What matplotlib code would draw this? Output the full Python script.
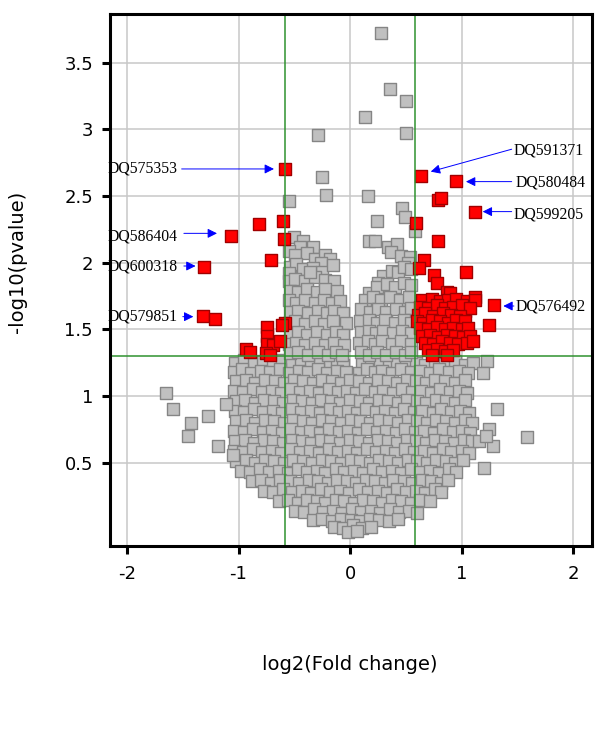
import matplotlib.pyplot as plt
import numpy as np

# log2 fold change / -log10 p-value
# lower body of the volcano (p > 0.05)
gray_body = [
    (-1.03, 1.25), (-0.95, 1.27), (-0.86, 1.24), (-0.78, 1.26), (-0.69, 1.25), (-0.61, 1.27), (-0.52, 1.24),
    (-0.44, 1.26), (-0.35, 1.25), (-0.27, 1.27), (-0.18, 1.24), (-0.12, 1.26), (-0.06, 1.23),
    (0.11, 1.24), (0.19, 1.27), (0.27, 1.25), (0.35, 1.26), (0.42, 1.24), (0.50, 1.27), (0.59, 1.25),
    (0.67, 1.23), (0.76, 1.26), (0.85, 1.24), (0.94, 1.26), (1.03, 1.23), (1.10, 1.25),
    (-1.04, 1.18), (-0.97, 1.20), (-0.89, 1.17), (-0.80, 1.19), (-0.72, 1.18), (-0.63, 1.20), (-0.55, 1.17),
    (-0.46, 1.19), (-0.38, 1.18), (-0.29, 1.20), (-0.21, 1.17), (-0.12, 1.19), (-0.04, 1.18), (0.08, 1.17),
    (0.15, 1.20), (0.22, 1.18), (0.29, 1.19), (0.38, 1.17), (0.46, 1.20), (0.55, 1.18), (0.63, 1.19),
    (0.72, 1.17), (0.80, 1.20), (0.89, 1.18), (0.98, 1.19), (1.06, 1.17),
    (-1.02, 1.11), (-0.93, 1.12), (-0.85, 1.10), (-0.76, 1.12), (-0.67, 1.11), (-0.59, 1.10), (-0.50, 1.12),
    (-0.42, 1.11), (-0.33, 1.10), (-0.25, 1.12), (-0.16, 1.11), (-0.08, 1.10), (0.00, 1.12), (0.08, 1.11),
    (0.17, 1.10), (0.25, 1.12), (0.34, 1.11), (0.42, 1.10), (0.51, 1.12), (0.59, 1.11), (0.68, 1.10),
    (0.76, 1.12), (0.85, 1.11), (0.94, 1.10), (1.03, 1.12),
    (-1.04, 1.04), (-0.96, 1.03), (-0.87, 1.05), (-0.79, 1.03), (-0.70, 1.04), (-0.62, 1.02), (-0.53, 1.05),
    (-0.45, 1.03), (-0.36, 1.04), (-0.28, 1.02), (-0.19, 1.05), (-0.11, 1.03), (-0.03, 1.04), (0.05, 1.02),
    (0.13, 1.05), (0.22, 1.03), (0.30, 1.04), (0.39, 1.02), (0.47, 1.05), (0.56, 1.03), (0.64, 1.04),
    (0.73, 1.02), (0.81, 1.05), (0.90, 1.03), (0.98, 1.04), (1.05, 1.02),
    (-1.02, 0.96), (-0.94, 0.97), (-0.85, 0.95), (-0.77, 0.97), (-0.68, 0.96), (-0.60, 0.95), (-0.51, 0.97),
    (-0.43, 0.96), (-0.34, 0.95), (-0.26, 0.97), (-0.17, 0.96), (-0.09, 0.95), (0.00, 0.97), (0.09, 0.96),
    (0.17, 0.95), (0.26, 0.97), (0.34, 0.96), (0.43, 0.95), (0.51, 0.97), (0.60, 0.96), (0.68, 0.95),
    (0.77, 0.97), (0.86, 0.96), (0.94, 0.95), (1.03, 0.97),
    (-1.03, 0.89), (-0.95, 0.88), (-0.86, 0.90), (-0.78, 0.88), (-0.69, 0.89), (-0.61, 0.87), (-0.52, 0.90),
    (-0.44, 0.88), (-0.35, 0.89), (-0.27, 0.87), (-0.18, 0.90), (-0.10, 0.88), (-0.02, 0.89), (0.06, 0.87),
    (0.14, 0.90), (0.23, 0.88), (0.31, 0.89), (0.40, 0.87), (0.48, 0.90), (0.57, 0.88), (0.65, 0.89),
    (0.74, 0.87), (0.82, 0.90), (0.91, 0.88), (0.99, 0.89), (1.07, 0.87),
    (-1.02, 0.81), (-0.93, 0.82), (-0.85, 0.80), (-0.76, 0.82), (-0.68, 0.81), (-0.59, 0.80), (-0.51, 0.82),
    (-0.42, 0.81), (-0.34, 0.80), (-0.25, 0.82), (-0.17, 0.81), (-0.08, 0.80), (0.01, 0.82), (0.09, 0.81),
    (0.18, 0.80), (0.26, 0.82), (0.35, 0.81), (0.43, 0.80), (0.52, 0.82), (0.60, 0.81), (0.69, 0.80),
    (0.77, 0.82), (0.86, 0.81), (0.94, 0.80), (1.03, 0.82), (1.09, 0.80),
    (-1.04, 0.74), (-0.95, 0.73), (-0.87, 0.75), (-0.78, 0.73), (-0.70, 0.74), (-0.61, 0.72), (-0.53, 0.75),
    (-0.44, 0.73), (-0.36, 0.74), (-0.27, 0.72), (-0.19, 0.75), (-0.10, 0.73), (-0.02, 0.74), (0.07, 0.72),
    (0.15, 0.75), (0.24, 0.73), (0.32, 0.74), (0.41, 0.72), (0.49, 0.75), (0.58, 0.73), (0.66, 0.74),
    (0.75, 0.72), (0.83, 0.75), (0.92, 0.73), (1.00, 0.74), (1.08, 0.72),
    (-1.03, 0.66), (-0.94, 0.67), (-0.86, 0.65), (-0.77, 0.67), (-0.69, 0.66), (-0.60, 0.65), (-0.52, 0.67),
    (-0.43, 0.66), (-0.35, 0.65), (-0.26, 0.67), (-0.18, 0.66), (-0.09, 0.65), (0.00, 0.67), (0.08, 0.66),
    (0.17, 0.65), (0.25, 0.67), (0.34, 0.66), (0.42, 0.65), (0.51, 0.67), (0.59, 0.66), (0.68, 0.65),
    (0.76, 0.67), (0.85, 0.66), (0.93, 0.65), (1.02, 0.67), (1.09, 0.66),
    (-1.04, 0.59), (-0.96, 0.58), (-0.87, 0.60), (-0.79, 0.58), (-0.70, 0.59), (-0.62, 0.57), (-0.53, 0.60),
    (-0.45, 0.58), (-0.36, 0.59), (-0.28, 0.57), (-0.19, 0.60), (-0.11, 0.58), (-0.02, 0.59), (0.06, 0.57),
    (0.15, 0.60), (0.23, 0.58), (0.32, 0.59), (0.40, 0.57), (0.49, 0.60), (0.57, 0.58), (0.66, 0.59),
    (0.74, 0.57), (0.83, 0.60), (0.91, 0.58), (1.00, 0.59), (1.07, 0.57),
    (-1.02, 0.51), (-0.93, 0.52), (-0.85, 0.50), (-0.76, 0.52), (-0.68, 0.51), (-0.59, 0.50), (-0.51, 0.52),
    (-0.42, 0.51), (-0.34, 0.50), (-0.25, 0.52), (-0.17, 0.51), (-0.08, 0.50), (0.01, 0.52), (0.09, 0.51),
    (0.18, 0.50), (0.26, 0.52), (0.35, 0.51), (0.43, 0.50), (0.52, 0.52), (0.60, 0.51), (0.69, 0.50),
    (0.77, 0.52), (0.86, 0.51), (0.94, 0.50), (1.01, 0.52),
    (-0.98, 0.44), (-0.90, 0.43), (-0.81, 0.45), (-0.73, 0.43), (-0.64, 0.44), (-0.56, 0.42), (-0.47, 0.45),
    (-0.39, 0.43), (-0.30, 0.44), (-0.22, 0.42), (-0.13, 0.45), (-0.05, 0.43), (0.04, 0.44), (0.12, 0.42),
    (0.21, 0.45), (0.29, 0.43), (0.38, 0.44), (0.46, 0.42), (0.55, 0.45), (0.63, 0.43), (0.72, 0.44),
    (0.80, 0.42), (0.89, 0.45), (0.95, 0.43),
    (-0.88, 0.36), (-0.80, 0.37), (-0.71, 0.35), (-0.63, 0.37), (-0.54, 0.36), (-0.46, 0.35), (-0.37, 0.37),
    (-0.29, 0.36), (-0.20, 0.35), (-0.12, 0.37), (-0.03, 0.36), (0.05, 0.35), (0.14, 0.37), (0.22, 0.36),
    (0.31, 0.35), (0.39, 0.37), (0.48, 0.36), (0.56, 0.35), (0.65, 0.37), (0.73, 0.36), (0.82, 0.35),
    (0.88, 0.37),
    (-0.77, 0.29), (-0.69, 0.28), (-0.60, 0.30), (-0.52, 0.28), (-0.43, 0.29), (-0.35, 0.27), (-0.26, 0.30),
    (-0.18, 0.28), (-0.09, 0.29), (-0.01, 0.27), (0.08, 0.30), (0.16, 0.28), (0.25, 0.29), (0.33, 0.27),
    (0.42, 0.30), (0.50, 0.28), (0.59, 0.29), (0.67, 0.27), (0.76, 0.30), (0.82, 0.28),
    (-0.64, 0.21), (-0.56, 0.22), (-0.47, 0.20), (-0.39, 0.22), (-0.30, 0.21), (-0.22, 0.20), (-0.13, 0.22),
    (-0.05, 0.21), (0.04, 0.20), (0.12, 0.22), (0.21, 0.21), (0.29, 0.20), (0.38, 0.22), (0.46, 0.21),
    (0.55, 0.20), (0.63, 0.22), (0.72, 0.21),
    (-0.49, 0.14), (-0.41, 0.13), (-0.32, 0.15), (-0.24, 0.13), (-0.15, 0.14), (-0.07, 0.12), (0.02, 0.15),
    (0.10, 0.13), (0.19, 0.14), (0.27, 0.12), (0.36, 0.15), (0.44, 0.13), (0.53, 0.14), (0.60, 0.12),
    (-0.33, 0.07), (-0.25, 0.08), (-0.16, 0.06), (-0.08, 0.08), (0.01, 0.07), (0.09, 0.06), (0.18, 0.08),
    (0.26, 0.07), (0.35, 0.06), (0.43, 0.08),
    (-0.14, 0.02), (-0.06, 0.01), (0.03, 0.03), (0.11, 0.01), (0.19, 0.02),
    (-0.02, -0.02), (0.06, -0.01),
]

# upper lobes, p < 0.05 but small fold change
gray_lobe_left = [
    (-0.50, 2.19), (-0.42, 2.16), (-0.33, 2.12), (-0.45, 2.12),
    (-0.55, 2.09), (-0.49, 2.06), (-0.39, 2.07), (-0.31, 2.03), (-0.22, 2.06), (-0.18, 2.03), (-0.26, 2.00),
    (-0.54, 1.97), (-0.48, 1.99), (-0.42, 1.95), (-0.33, 1.96), (-0.25, 1.93), (-0.15, 1.98), (-0.55, 1.92),
    (-0.55, 1.86), (-0.49, 1.88), (-0.40, 1.86), (-0.31, 1.89), (-0.22, 1.87), (-0.14, 1.86), (-0.36, 1.93),
    (-0.54, 1.79), (-0.47, 1.78), (-0.39, 1.80), (-0.30, 1.78), (-0.22, 1.80), (-0.12, 1.79),
    (-0.55, 1.72), (-0.48, 1.70), (-0.40, 1.72), (-0.31, 1.70), (-0.23, 1.72), (-0.16, 1.70), (-0.09, 1.71),
    (-0.54, 1.63), (-0.47, 1.64), (-0.38, 1.62), (-0.29, 1.64), (-0.21, 1.62), (-0.14, 1.64), (-0.06, 1.62),
    (-0.55, 1.55), (-0.49, 1.56), (-0.40, 1.54), (-0.31, 1.56), (-0.23, 1.54), (-0.15, 1.56), (-0.04, 1.55),
    (-0.54, 1.47), (-0.47, 1.48), (-0.39, 1.46), (-0.30, 1.48), (-0.21, 1.46), (-0.13, 1.48), (-0.06, 1.46),
    (-0.55, 1.39), (-0.48, 1.40), (-0.40, 1.38), (-0.31, 1.40), (-0.22, 1.38), (-0.14, 1.40), (-0.05, 1.38),
    (-0.54, 1.32), (-0.47, 1.33), (-0.38, 1.31), (-0.29, 1.33), (-0.20, 1.31), (-0.13, 1.33), (-0.07, 1.31),
]
gray_lobe_right = [
    (0.34, 2.12), (0.42, 2.14), (0.37, 2.08), (0.46, 2.05), (0.54, 2.04), (0.52, 2.00),
    (0.30, 1.90), (0.38, 1.94), (0.43, 1.93), (0.48, 1.97), (0.55, 1.95), (0.25, 1.85),
    (0.17, 1.77), (0.24, 1.82), (0.33, 1.84), (0.40, 1.82), (0.48, 1.85), (0.55, 1.83),
    (0.13, 1.72), (0.21, 1.74), (0.28, 1.72), (0.36, 1.74), (0.45, 1.72), (0.53, 1.74),
    (0.10, 1.65), (0.18, 1.63), (0.25, 1.65), (0.32, 1.63), (0.41, 1.65), (0.49, 1.63), (0.55, 1.66),
    (0.09, 1.56), (0.17, 1.57), (0.24, 1.55), (0.31, 1.57), (0.40, 1.55), (0.48, 1.57), (0.55, 1.55),
    (0.10, 1.48), (0.17, 1.49), (0.23, 1.47), (0.30, 1.49), (0.39, 1.47), (0.47, 1.49), (0.55, 1.47),
    (0.08, 1.40), (0.16, 1.41), (0.22, 1.39), (0.29, 1.41), (0.38, 1.39), (0.46, 1.41), (0.55, 1.39),
    (0.10, 1.33), (0.17, 1.31), (0.24, 1.33), (0.32, 1.31), (0.41, 1.33), (0.49, 1.31), (0.55, 1.33),
]
gray_outliers = [
    (0.28, 3.72), (0.36, 3.30), (0.50, 3.21), (0.13, 3.09), (0.50, 2.97), (-0.29, 2.955),
    (-0.25, 2.64), (-0.215, 2.505), (-0.55, 2.465), (0.16, 2.50), (0.47, 2.41), (0.49, 2.34),
    (0.24, 2.31), (0.58, 2.24), (0.17, 2.165), (0.22, 2.165),
    (-1.65, 1.025), (-1.585, 0.90), (-1.43, 0.795), (-1.45, 0.70), (-1.27, 0.85), (-1.11, 0.94),
    (-1.18, 0.625), (-1.05, 0.555),
    (1.23, 1.26), (1.19, 1.175), (1.32, 0.905), (1.25, 0.75), (1.28, 0.625), (1.59, 0.695),
    (1.20, 0.46), (1.16, 0.66), (1.22, 0.70),
]

# significant genes (p < 0.05, |log2 FC| > 0.585)
red_down = [
    (-0.58, 2.70), (-0.82, 2.29), (-0.60, 2.31), (-1.07, 2.20), (-0.59, 2.18), (-0.71, 2.02),
    (-1.31, 1.97), (-1.32, 1.60), (-1.21, 1.58), (-0.58, 1.55), (-0.61, 1.53), (-0.74, 1.52),
    (-0.74, 1.45), (-0.74, 1.39), (-0.69, 1.38), (-0.63, 1.41), (-0.93, 1.355), (-0.90, 1.33),
    (-0.75, 1.32), (-0.72, 1.31),
]
red_up = [
    (0.64, 2.65), (0.955, 2.615), (0.79, 2.47), (0.82, 2.485), (1.12, 2.38), (0.595, 2.30),
    (0.79, 2.16), (0.66, 2.02), (0.62, 1.96), (1.04, 1.93), (0.75, 1.91), (0.78, 1.85),
    (1.29, 1.68), (1.25, 1.53), (1.12, 1.74), (1.07, 1.70), (1.03, 1.64),
    (0.866, 1.78), (0.896, 1.77),
    (0.642, 1.72), (0.731, 1.73), (0.806, 1.71), (0.881, 1.72), (0.955, 1.73), (1.045, 1.71), (1.119, 1.72),
    (0.627, 1.67), (0.701, 1.66), (0.776, 1.68), (0.851, 1.66), (0.925, 1.67), (1.000, 1.68), (1.075, 1.66),
    (0.612, 1.61), (0.672, 1.62), (0.746, 1.60), (0.836, 1.62), (0.910, 1.61), (0.985, 1.60),
    (0.597, 1.56), (0.657, 1.55), (0.731, 1.57), (0.806, 1.56), (0.881, 1.55), (0.955, 1.57), (1.030, 1.56),
    (0.627, 1.51), (0.701, 1.50), (0.776, 1.52), (0.851, 1.50), (0.925, 1.51), (1.000, 1.50), (1.060, 1.51),
    (0.642, 1.45), (0.716, 1.46), (0.791, 1.44), (0.866, 1.46), (0.940, 1.45), (1.015, 1.44), (1.075, 1.45),
    (0.672, 1.40), (0.746, 1.39), (0.821, 1.41), (0.896, 1.40), (0.970, 1.39), (1.045, 1.40), (1.104, 1.41),
    (0.701, 1.345), (0.776, 1.35), (0.851, 1.34), (0.925, 1.345),
    (0.731, 1.305), (0.866, 1.305),
]

fc_cut = 0.585  # log2(1.5)
p_cut = 1.3     # -log10(0.05)

xticks = [-2, -1, 0, 1, 2]
xtick_labels = ["-2", "-1", "0", "1", "2"]
yticks = [0.5, 1, 1.5, 2, 2.5, 3, 3.5]
ytick_labels = ["0.5", "1", "1.5", "2", "2.5", "3", "3.5"]

gene_names = ["DQ575353", "DQ586404", "DQ600318", "DQ579851",
              "DQ591371", "DQ580484", "DQ599205", "DQ576492"]
# text anchor, arrow start, arrow tip (layout only)
label_text_pos = [(-2.17, 2.703), (-2.17, 2.195), (-2.17, 1.975), (-2.17, 1.595),
                  (1.465, 2.845), (1.486, 2.603), (1.471, 2.365), (1.489, 1.670)]
label_arrow_from = [(-1.51, 2.703), (-1.49, 2.22), (-1.49, 1.975), (-1.50, 1.595),
                    (1.45, 2.851), (1.45, 2.608), (1.45, 2.383), (1.47, 1.675)]
label_arrow_to = [(-0.682, 2.703), (-1.193, 2.22), (-1.385, 1.975), (-1.405, 1.595),
                  (0.724, 2.683), (1.040, 2.608), (1.190, 2.383), (1.375, 1.675)]

fig = plt.figure(figsize=(6.04, 7.30), dpi=100)
ax = fig.add_axes([0.1813, 0.2521, 0.7984, 0.7283])

gray = np.array(gray_body + gray_lobe_left + gray_lobe_right + gray_outliers)
red = np.array(red_down + red_up)
ax.scatter(gray[:, 0], gray[:, 1], marker="s", s=70, facecolor="#c0c0c0",
           edgecolor="#858585", linewidth=1.0, zorder=3)
ax.scatter(red[:, 0], red[:, 1], marker="s", s=70, facecolor="#ff0000",
           edgecolor="#a00000", linewidth=1.0, zorder=4)

for v in (-fc_cut, fc_cut):
    ax.axvline(v, color="#2f922f", lw=1.1, zorder=5)
ax.axhline(p_cut, color="#2f922f", lw=1.1, zorder=5)

ax.set_xlim(-2.157, 2.168)
ax.set_ylim(-0.125, 3.863)
ax.set_xticks(xticks)
ax.set_xticklabels(xtick_labels)
ax.set_yticks(yticks)
ax.set_yticklabels(ytick_labels)
ax.grid(True, color="#c8c8c8", lw=1.1, zorder=0)
ax.set_axisbelow(True)
ax.tick_params(direction="out", length=5.8, width=2.2, labelsize=13, color="black")
ax.tick_params(axis="x", pad=8)
ax.tick_params(axis="y", pad=6)
for sp in ax.spines.values():
    sp.set_linewidth(2.2)
    sp.set_zorder(6)

for name, tp, a0, a1 in zip(gene_names, label_text_pos, label_arrow_from, label_arrow_to):
    ax.text(tp[0], tp[1], name, family="Liberation Serif", fontsize=11.3,
            ha="left", va="center", zorder=7, clip_on=False)
    ax.annotate("", xy=a1, xytext=a0,
                arrowprops=dict(arrowstyle="-|>", color="blue", lw=0.7,
                                mutation_scale=14, shrinkA=0, shrinkB=0),
                zorder=7)

fig.text(18 / 604, 1 - 262 / 730, "-log10(pvalue)", rotation=90,
         ha="center", va="center", fontsize=14)
fig.text(350 / 604, 1 - 664 / 730, "log2(Fold change)",
         ha="center", va="center", fontsize=14)

fig.savefig("out.png", dpi=100)
